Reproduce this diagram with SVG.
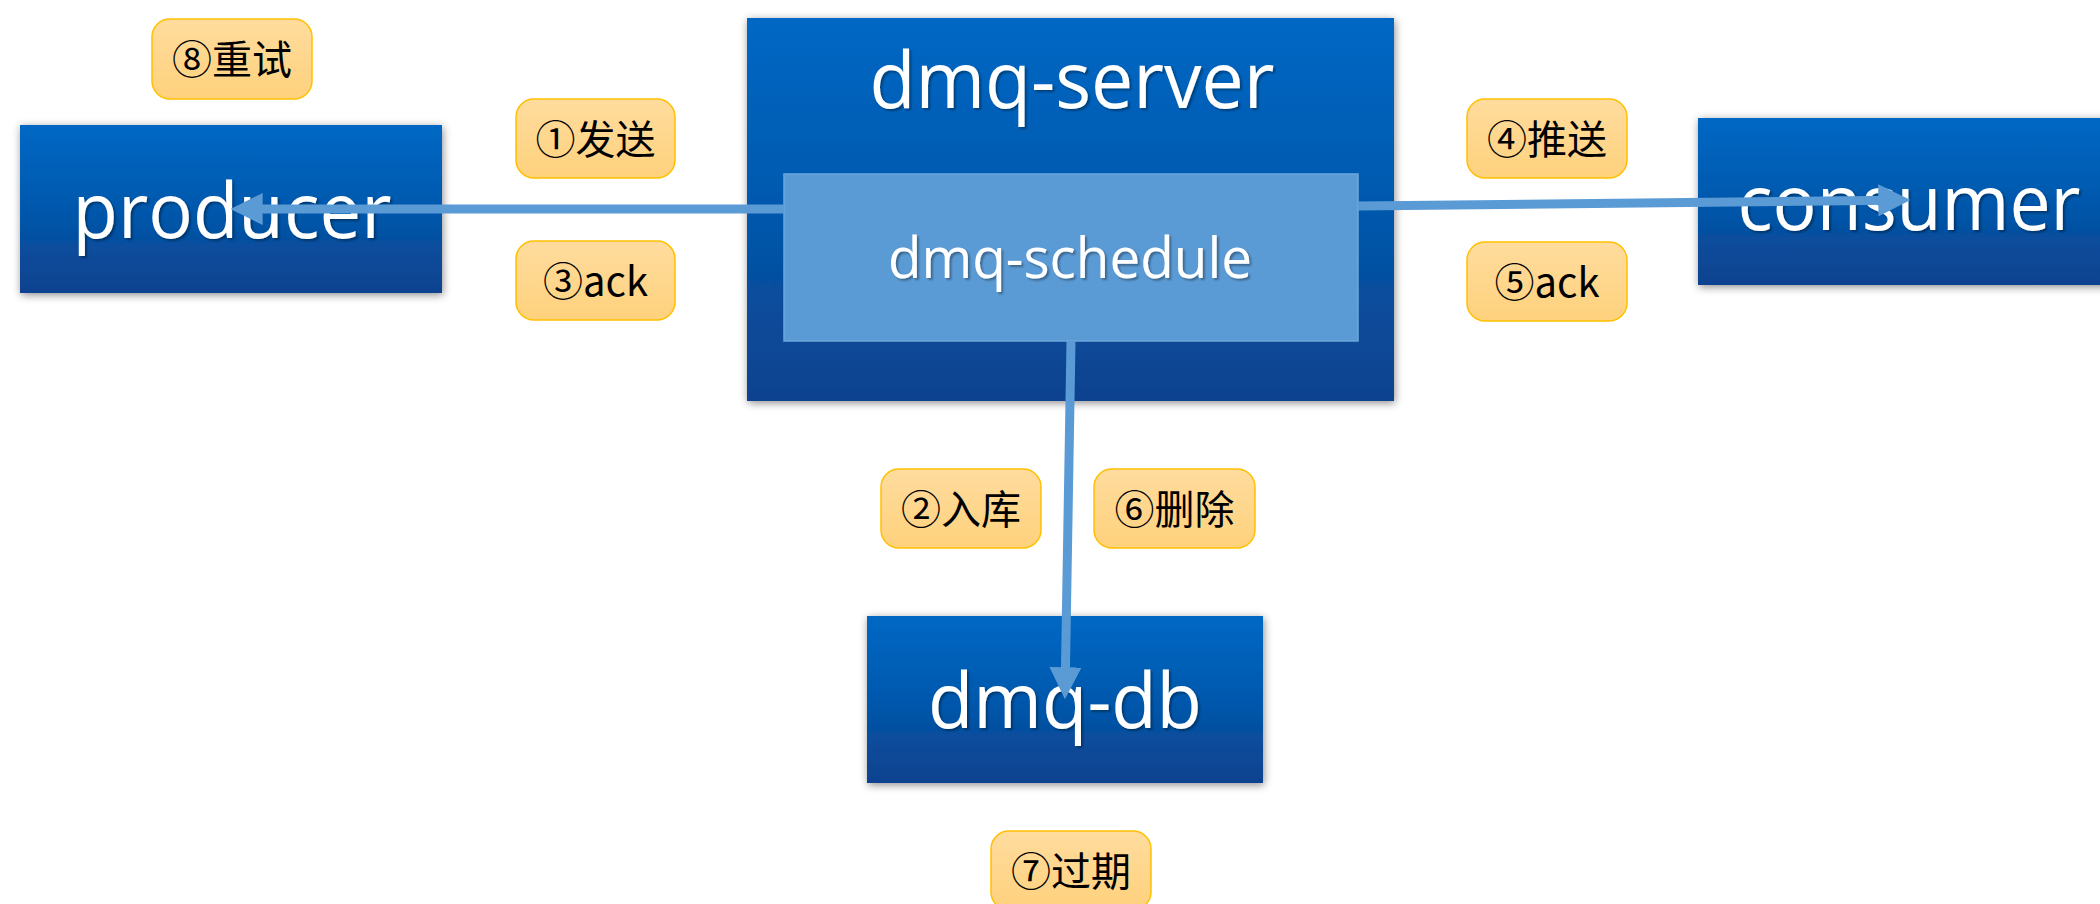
<svg xmlns="http://www.w3.org/2000/svg" width="2100" height="904" viewBox="0 0 2100 904">
  <defs>
    <linearGradient id="nodeGrad" x1="0" y1="0" x2="0" y2="1">
      <stop offset="0" stop-color="#0068C4"/>
      <stop offset="0.5" stop-color="#0058AD"/>
      <stop offset="0.8" stop-color="#0A4A98"/>
      <stop offset="1" stop-color="#0E4290"/>
    </linearGradient>
    <linearGradient id="labelGrad" x1="0" y1="0" x2="0" y2="1">
      <stop offset="0" stop-color="#FFDC9E"/>
      <stop offset="1" stop-color="#FED17C"/>
    </linearGradient>
    <filter id="boxShadow" x="-10%" y="-10%" width="120%" height="130%">
      <feDropShadow dx="1" dy="2" stdDeviation="4" flood-color="#000" flood-opacity="0.45"/>
    </filter>
    <filter id="textShadow" x="-5%" y="-10%" width="110%" height="130%">
      <feDropShadow dx="2" dy="2" stdDeviation="1" flood-color="#000" flood-opacity="0.35"/>
    </filter>
    <marker id="arrow" markerUnits="userSpaceOnUse" markerWidth="32" markerHeight="32" viewBox="0 0 30 30" refX="10" refY="15" orient="auto">
      <path d="M0,0 L30,15 L0,30 z" fill="#5B9BD5"/>
    </marker>
    <style>
      .node { fill: url(#nodeGrad); filter: url(#boxShadow); }
      .inner { fill: #5B9BD5; stroke: #6DA6DB; stroke-width: 1.5; }
      .ntext { font-family: "Open Sans", "Noto Sans", sans-serif; fill: #FFFFFF; text-anchor: middle; filter: url(#textShadow); }
      .label { fill: url(#labelGrad); stroke: #FFC000; stroke-width: 1.5; }
      .ltext { font-family: "Noto Sans CJK SC", "Noto Sans", sans-serif; font-size: 40px; fill: #000000; text-anchor: middle; }
      .conn { stroke: #5B9BD5; stroke-width: 9; fill: none; marker-end: url(#arrow); }
    </style>
  </defs>

  <rect width="2100" height="904" fill="#FFFFFF"/>

  <g id="producer">
    <rect class="node" x="20" y="125" width="422" height="168"/>
    <text class="ntext" x="232" y="238" font-size="77" textLength="319" lengthAdjust="spacingAndGlyphs">producer</text>
  </g>

  <g id="dmq-server">
    <rect class="node" x="747" y="18" width="647" height="383"/>
    <text class="ntext" x="1072" y="108" font-size="78" textLength="405" lengthAdjust="spacingAndGlyphs">dmq-server</text>
  </g>

  <g id="dmq-schedule">
    <rect class="inner" x="784" y="174" width="574" height="167"/>
    <text class="ntext" x="1070" y="278" font-size="57" textLength="364" lengthAdjust="spacingAndGlyphs">dmq-schedule</text>
  </g>

  <g id="consumer">
    <rect class="node" x="1698" y="118" width="430" height="167"/>
    <text class="ntext" x="1909" y="230" font-size="77" textLength="343" lengthAdjust="spacingAndGlyphs">consumer</text>
  </g>

  <g id="dmq-db">
    <rect class="node" x="867" y="616" width="396" height="167"/>
    <text class="ntext" x="1065" y="728" font-size="77" textLength="274" lengthAdjust="spacingAndGlyphs">dmq-db</text>
  </g>

  <g id="connectors">
    <line class="conn" x1="784" y1="209" x2="252" y2="209"/>
    <line class="conn" x1="1358" y1="206" x2="1889" y2="200.2"/>
    <line class="conn" x1="1071" y1="341" x2="1065.3" y2="678"/>
  </g>

  <g id="label-retry">
    <rect class="label" x="152" y="19" width="160" height="80" rx="18"/>
    <text class="ltext" x="232" y="74">⑧重试</text>
  </g>
  <g id="label-send">
    <rect class="label" x="516" y="99" width="159" height="79" rx="18"/>
    <text class="ltext" x="595.5" y="154">①发送</text>
  </g>
  <g id="label-ack3">
    <rect class="label" x="516" y="241" width="159" height="79" rx="18"/>
    <text class="ltext" x="595.5" y="296">③ack</text>
  </g>
  <g id="label-push">
    <rect class="label" x="1467" y="99" width="160" height="79" rx="18"/>
    <text class="ltext" x="1547" y="154">④推送</text>
  </g>
  <g id="label-ack5">
    <rect class="label" x="1467" y="242" width="160" height="79" rx="18"/>
    <text class="ltext" x="1547" y="297">⑤ack</text>
  </g>
  <g id="label-store">
    <rect class="label" x="881" y="469" width="160" height="79" rx="18"/>
    <text class="ltext" x="961" y="524">②入库</text>
  </g>
  <g id="label-delete">
    <rect class="label" x="1094" y="469" width="161" height="79" rx="18"/>
    <text class="ltext" x="1174.5" y="524">⑥删除</text>
  </g>
  <g id="label-expire">
    <rect class="label" x="991" y="831" width="160" height="79" rx="18"/>
    <text class="ltext" x="1071" y="886">⑦过期</text>
  </g>
</svg>
